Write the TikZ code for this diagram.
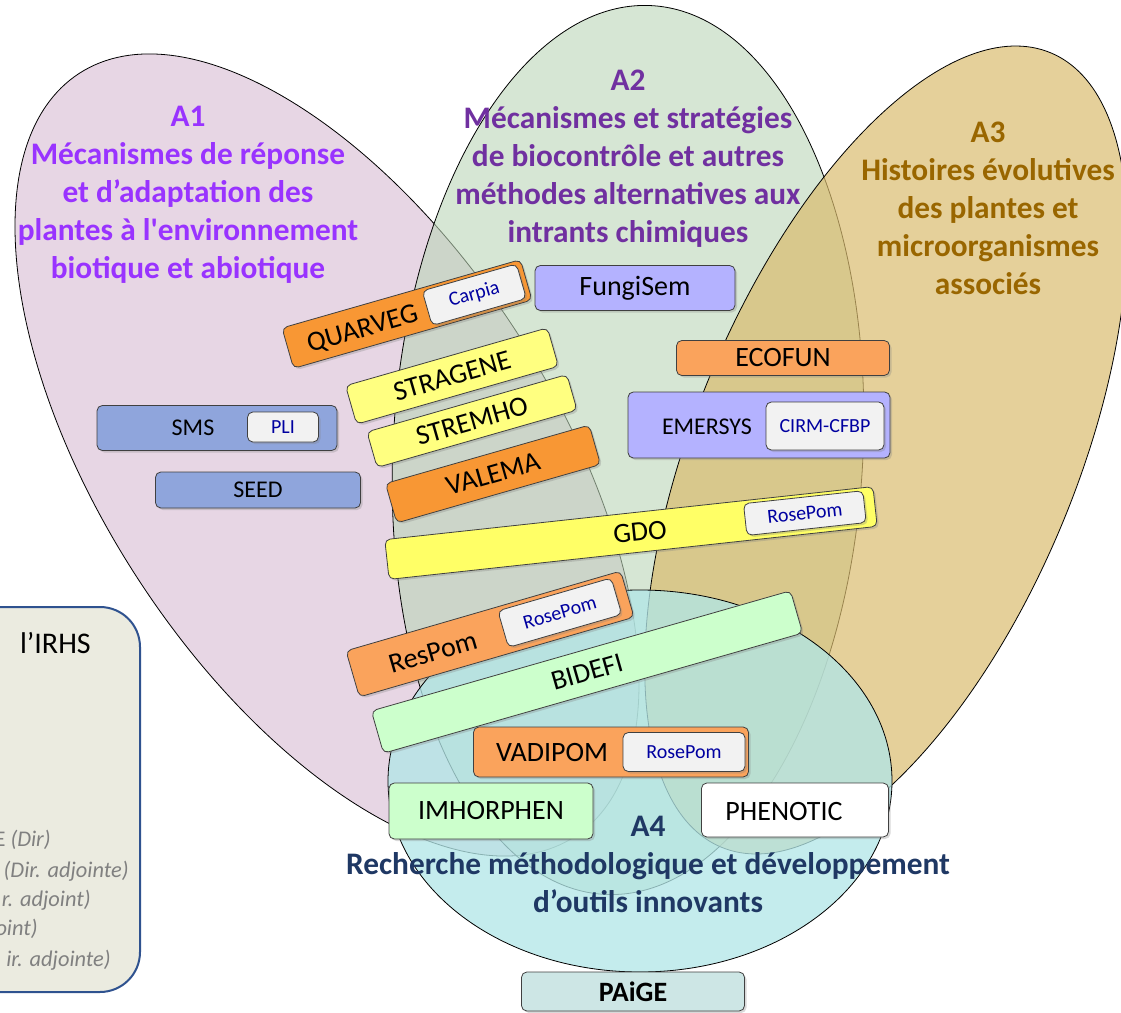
\documentclass[tikz,border=0pt]{standalone}
\usepackage{fontspec}
\setmainfont{Carlito}
\usetikzlibrary{shadows}

\definecolor{pinkA}{RGB}{231,214,228}
\definecolor{greenA}{RGB}{187,213,183}
\definecolor{tanA}{RGB}{218,188,111}
\definecolor{cyanA}{RGB}{178,230,231}
\definecolor{titleA}{RGB}{153,51,255}
\definecolor{titleB}{RGB}{112,48,160}
\definecolor{titleC}{RGB}{153,102,0}
\definecolor{titleD}{RGB}{31,56,100}
\definecolor{orangeA}{RGB}{248,151,52}
\definecolor{orangeB}{RGB}{250,163,92}
\definecolor{yellowA}{RGB}{255,255,128}
\definecolor{yellowB}{RGB}{255,255,102}
\definecolor{lilac}{RGB}{180,178,255}
\definecolor{blueA}{RGB}{143,165,220}
\definecolor{greenB}{RGB}{204,255,204}
\definecolor{paige}{RGB}{205,230,229}
\definecolor{tagfill}{RGB}{242,242,242}
\definecolor{tagtext}{RGB}{0,0,160}
\definecolor{legfill}{RGB}{235,235,224}
\definecolor{legline}{RGB}{47,82,143}

\begin{document}
\begin{tikzpicture}[x=0.75pt,y=-0.75pt,
  area/.style={draw=black, line width=0.6pt},
  areatitle/.style={align=center, font=\fontsize{23.5}{28.5}\selectfont\bfseries},
  box/.style={draw=black!75, line width=0.6pt, rounded corners=4pt, inner sep=0pt,
    font=\fontsize{21}{25}\selectfont,
    drop shadow={shadow xshift=1.5pt, shadow yshift=-1.5pt, opacity=0.3}},
  tagbox/.style={box, fill=tagfill, text=tagtext, font=\fontsize{15}{18}\selectfont},
  boxtext/.style={inner sep=0pt, font=\fontsize{21}{25}\selectfont},
  legtext/.style={anchor=east, inner sep=0pt, text=black!50, font=\fontsize{16.8}{20}\selectfont}]
\useasboundingbox (0,0) rectangle (1121,1013);
\clip (0,0) rectangle (1121,1013);

% the four axes
\draw[area, fill=pinkA, rotate around={33:(327,455)}] (327,455) ellipse [x radius=226, y radius=455];
\draw[area, fill=greenA, fill opacity=0.6, rotate around={-3:(628,450)}] (628,450) ellipse [x radius=235, y radius=445];
\draw[area, fill=tanA, fill opacity=0.7, rotate around={-22.5:(886,450)}] (886,450) ellipse [x radius=191, y radius=430];
\draw[area, fill=cyanA, fill opacity=0.77] (640,781) ellipse [x radius=252, y radius=191];

\node[areatitle, text=titleA] (TitleA1) at (188,195) {A1\\Mécanismes de réponse\\et d’adaptation des\\plantes à l\textquotesingle environnement\\biotique et abiotique};
\node[areatitle, text=titleB] (TitleA2) at (628,159) {A2\\Mécanismes et stratégies\\de biocontrôle et autres\\méthodes alternatives aux\\intrants chimiques};
\node[areatitle, text=titleC] (TitleA3) at (988,208) {A3\\Histoires évolutives\\des plantes et\\microorganismes\\associés};
\node[areatitle, text=titleD] (TitleA4) at (648,864) {A4\\Recherche méthodologique et développement\\d’outils innovants};

% legend box
\node[draw=legline, line width=1.5pt, fill=legfill, rounded corners=30pt, minimum width=150pt, minimum height=288.75pt] (Legend) at (40,799.5) {};
\node[anchor=east, inner sep=0pt, font=\fontsize{22.5}{27}\selectfont] (LegTitle) at (91,643) {l’IRHS};
\node[legtext] (LegDir) at (51,840) {E \textit{(Dir)}};
\node[legtext] (LegAdjA) at (129,871) {\textit{(Dir. adjointe)}};
\node[legtext] (LegAdjB) at (91,900) {\textit{r. adjoint)}};
\node[legtext] (LegAdjC) at (38,929) {\textit{oint)}};
\node[legtext] (LegAdjD) at (111,960) {\textit{ir. adjointe)}};

% projects
\node[box, fill=lilac, minimum width=150pt, minimum height=33.75pt] (FungiSem) at (635,288) {FungiSem};
\node[box, fill=orangeB, minimum width=159.75pt, minimum height=26.25pt] (Ecofun) at (783,358) {ECOFUN};
\node[box, fill=lilac, minimum width=196.5pt, minimum height=49.5pt] (Emersys) at (759,425) {};
\node[boxtext, font=\fontsize{18}{22}\selectfont] (EmersysName) at (707,427) {EMERSYS};
\node[tagbox, minimum width=88.5pt, minimum height=36pt] (CirmCfbp) at (825,426) {CIRM-CFBP};
\node[box, fill=blueA, minimum width=180pt, minimum height=33.75pt] (Sms) at (217,428) {};
\node[boxtext, font=\fontsize{18}{22}\selectfont] (SmsName) at (193,428) {SMS};
\node[tagbox, minimum width=53.25pt, minimum height=22.5pt] (Pli) at (283,427) {PLI};
\node[box, fill=blueA, minimum width=153.75pt, minimum height=27pt, font=\fontsize{18}{22}\selectfont] (Seed) at (258,490) {SEED};

\begin{scope}[shift={(407,314)}, rotate=16, transform shape]
  \node[box, fill=orangeA, minimum width=186pt, minimum height=31.5pt] (Quarveg) at (0,0) {};
  \node[boxtext] (QuarvegName) at (-47,3) {QUARVEG};
  \node[tagbox, minimum width=73.5pt, minimum height=27pt] (Carpia) at (70,0) {Carpia};
\end{scope}
\begin{scope}[shift={(452,376)}, rotate=16, transform shape]
  \node[box, fill=yellowA, minimum width=157.5pt, minimum height=30pt] (Stragene) at (0,0) {STRAGENE};
\end{scope}
\begin{scope}[shift={(472,421)}, rotate=16, transform shape]
  \node[box, fill=yellowA, minimum width=156pt, minimum height=27.75pt] (Stremho) at (0,0) {STREMHO};
\end{scope}
\begin{scope}[shift={(493,474)}, rotate=16, transform shape]
  \node[box, fill=orangeA, minimum width=159pt, minimum height=30.75pt] (Valema) at (0,0) {VALEMA};
\end{scope}
\begin{scope}[shift={(631,533)}, rotate=6.2, transform shape]
  \node[box, fill=yellowB, minimum width=368.25pt, minimum height=30pt] (Gdo) at (0,0) {};
  \node[boxtext] (GdoName) at (9,0) {GDO};
  \node[tagbox, minimum width=90pt, minimum height=24pt] (RosePomA) at (175,-1) {RosePom};
\end{scope}
\begin{scope}[shift={(587,672)}, rotate=16, transform shape]
  \node[box, fill=greenB, minimum width=327pt, minimum height=33pt] (Bidefi) at (0,0) {BIDEFI};
\end{scope}
\begin{scope}[shift={(490,634)}, rotate=16.2, transform shape]
  \node[box, fill=orangeB, minimum width=214.5pt, minimum height=36pt] (ResPom) at (0,0) {};
  \node[boxtext] (ResPomName) at (-60,2) {ResPom};
  \node[tagbox, minimum width=88.5pt, minimum height=28.5pt] (RosePomB) at (73,-1) {RosePom};
\end{scope}

\node[box, fill=orangeB, minimum width=206.25pt, minimum height=37.5pt] (Vadipom) at (611,752) {};
\node[boxtext] (VadipomName) at (552,753) {VADIPOM};
\node[tagbox, minimum width=91.5pt, minimum height=29.25pt] (RosePomC) at (684,752) {RosePom};
\node[box, fill=greenB, minimum width=153pt, minimum height=42pt] (Imhorphen) at (491,811) {IMHORPHEN};
\node[box, fill=white, minimum width=140.25pt, minimum height=40.5pt] (Phenotic) at (795,810) {};
\node[boxtext] (PhenoticName) at (784,812) {PHENOTIC};
\node[box, fill=paige, minimum width=167.25pt, minimum height=29.25pt, font=\fontsize{21}{25}\selectfont\bfseries] (Paige) at (633,991.5) {PAiGE};
\end{tikzpicture}
\end{document}
